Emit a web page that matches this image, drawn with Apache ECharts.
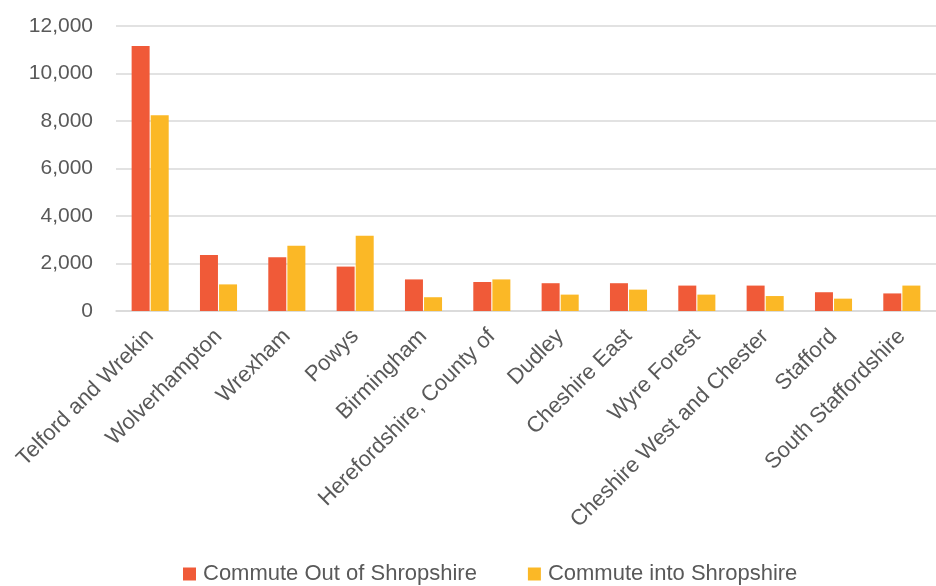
<!DOCTYPE html>
<html><head><meta charset="utf-8">
<script src="https://cdn.jsdelivr.net/npm/echarts@6/dist/echarts.min.js"></script>
<style>html,body{margin:0;padding:0;background:#fff;overflow:hidden}#c{width:936px;height:586px}</style>
</head><body><div id="c"></div>
<script>
const categories = ["Telford and Wrekin","Wolverhampton","Wrexham","Powys","Birmingham","Herefordshire, County of","Dudley","Cheshire East","Wyre Forest","Cheshire West and Chester","Stafford","South Staffordshire"];
const commuteOut = [11160, 2360, 2260, 1870, 1330, 1220, 1170, 1170, 1070, 1070, 790, 740];
const commuteInto = [8240, 1120, 2750, 3170, 580, 1330, 690, 900, 690, 630, 520, 1070];
const seriesNames = ["Commute Out of Shropshire","Commute into Shropshire"];
const yTicks = {min: 0, max: 12000, interval: 2000};

const font = 'Liberation Sans, Arial, sans-serif';
const chart = echarts.init(document.getElementById('c'));
chart.setOption({
  animation: false,
  textStyle: {fontFamily: font},
  grid: {left: 116, right: -10, top: 26, bottom: 275, containLabel: false},
  legend: {
    bottom: -4, left: 178, itemWidth: 13, itemHeight: 13, itemGap: 51,
    icon: 'rect',
    textStyle: {color: '#595959', fontSize: 22, fontFamily: font, padding: [0,0,0,2]},
    data: seriesNames
  },
  xAxis: {
    type: 'category', data: categories,
    axisLine: {lineStyle: {color: '#d9d9d9', width: 1.5}},
    axisTick: {show: false},
    axisLabel: {rotate: 45, color: '#595959', fontSize: 22, fontFamily: font, margin: 22, interval: 0}
  },
  yAxis: {
    type: 'value', min: yTicks.min, max: yTicks.max, interval: yTicks.interval,
    axisLine: {show: false}, axisTick: {show: false},
    splitLine: {lineStyle: {color: '#d9d9d9', width: 1.5}},
    axisLabel: {color: '#595959', fontSize: 21, fontFamily: font, margin: 23,
      formatter: v => v.toLocaleString('en-US')}
  },
  series: [
    {name: seriesNames[0], type: 'bar', data: commuteOut, barWidth: 18, barGap: '6%',
     itemStyle: {color: '#F05A38'}},
    {name: seriesNames[1], type: 'bar', data: commuteInto, barWidth: 18,
     itemStyle: {color: '#FBB826'}}
  ]
});
</script></body></html>
